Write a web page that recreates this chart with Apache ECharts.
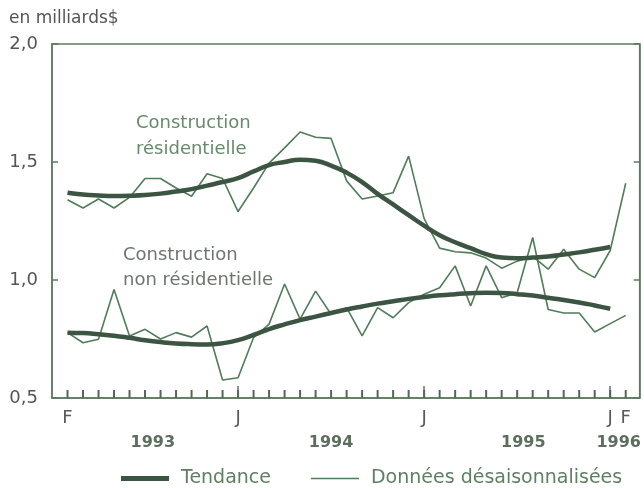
<!DOCTYPE html>
<html>
<head>
<meta charset="utf-8">
<script src="https://cdn.jsdelivr.net/npm/echarts@6/dist/echarts.min.js"></script>
<style>html,body{margin:0;padding:0;background:#fff;}#c{width:644px;height:488px;}</style>
</head>
<body>
<div id="c"></div>
<script>
// Months: Feb 1993 (index 0) .. Feb 1996 (index 36)
var resRaw = [1.34, 1.305, 1.343, 1.305, 1.35, 1.43, 1.43, 1.39, 1.355, 1.45, 1.43, 1.29, 1.39, 1.495, 1.56, 1.627, 1.605, 1.60, 1.42, 1.343, 1.356, 1.37, 1.525, 1.26, 1.135, 1.12, 1.115, 1.093, 1.05, 1.08, 1.10, 1.046, 1.13, 1.046, 1.01, 1.125, 1.41];
var nonresRaw = [0.777, 0.734, 0.749, 0.96, 0.763, 0.791, 0.75, 0.777, 0.758, 0.805, 0.576, 0.586, 0.756, 0.813, 0.983, 0.834, 0.953, 0.855, 0.883, 0.763, 0.883, 0.84, 0.904, 0.94, 0.967, 1.06, 0.89, 1.06, 0.925, 0.946, 1.18, 0.875, 0.86, 0.86, 0.78, 0.815, 0.85];
var resTrend = [1.37, 1.362, 1.358, 1.356, 1.357, 1.36, 1.366, 1.375, 1.385, 1.40, 1.415, 1.432, 1.46, 1.487, 1.50, 1.51, 1.505, 1.485, 1.455, 1.415, 1.365, 1.32, 1.275, 1.23, 1.19, 1.16, 1.135, 1.11, 1.095, 1.092, 1.095, 1.10, 1.108, 1.117, 1.128, 1.14];
var nonresTrend = [0.777, 0.775, 0.77, 0.764, 0.755, 0.745, 0.737, 0.731, 0.728, 0.727, 0.732, 0.745, 0.767, 0.792, 0.812, 0.83, 0.845, 0.86, 0.875, 0.888, 0.90, 0.91, 0.92, 0.928, 0.935, 0.94, 0.944, 0.946, 0.945, 0.94, 0.934, 0.925, 0.915, 0.905, 0.892, 0.878];

var monthTickPos = [0,1,2,3,4,5,6,7,8,9,10,11,12,13,14,15,16,17,18,19,20,21,22,23,24,25,26,27,28,29,30,31,32,33,34,35,36];
var monthLabelPos = [0, 11, 23, 35, 36];
var monthLabels = ['F', 'J', 'J', 'J', 'F'];
var janTickPos = [11, 23, 35];
var yearLabelPos = [5.5, 17, 29.4, 35.55];
var yearLabels = ['1993', '1994', '1995', '1996'];
var yTicks = ['0,5', '1,0', '1,5', '2,0'];

var FONT = 'DejaVu Sans';
var frame = '#5d7a60';
var trendColor = '#3c5442';
var rawColor = '#4f7d57';
var Y_MIN = 0.5, Y_MAX = 2.0;

function pairs(arr) { return arr.map(function (v, i) { return [i, v]; }); }
function lookup(pos, labels) {
  return function (val) {
    for (var k = 0; k < pos.length; k++) if (Math.abs(pos[k] - val) < 1e-6) return labels[k];
    return '';
  };
}

var chart = echarts.init(document.getElementById('c'), null, { renderer: 'canvas' });
chart.setOption({
  animation: false,
  backgroundColor: '#ffffff',
  grid: { left: 52, right: 2.5, top: 44, bottom: 90, show: true, borderColor: frame, borderWidth: 1.5, backgroundColor: 'transparent' },
  legend: {
    data: [
      { name: 'Tendance', icon: 'path://M0 0H47V5H0Z' },
      { name: 'Données désaisonnalisées', icon: 'path://M0 0H50V1.6H0Z' }
    ],
    left: 116, top: 464,
    itemWidth: 48, itemHeight: 14, itemGap: 40,
    textStyle: { fontFamily: FONT, fontSize: 19, color: '#5f7f63', padding: [0, 0, 0, 7] }
  },
  xAxis: [
    {
      type: 'value', min: -1, max: 36.9, position: 'bottom',
      axisLine: { show: true, onZero: false, lineStyle: { color: frame, width: 1.5 } },
      axisTick: { show: false },
      axisLabel: { show: true, customValues: monthLabelPos, formatter: lookup(monthLabelPos, monthLabels), margin: 11, fontFamily: FONT, fontSize: 18, color: '#5a5a5a', hideOverlap: false },
      splitLine: { show: false }
    },
    {
      type: 'value', min: -1, max: 36.9, position: 'bottom',
      axisLine: { show: false, onZero: false },
      axisTick: { show: true, inside: true, length: 12, customValues: janTickPos, lineStyle: { color: frame, width: 1.5 } },
      axisLabel: { show: false },
      splitLine: { show: false }
    },
    {
      type: 'value', min: -1, max: 36.9, position: 'bottom',
      axisLine: { show: false, onZero: false },
      axisTick: { show: false },
      axisLabel: { show: true, customValues: yearLabelPos, formatter: lookup(yearLabelPos, yearLabels), margin: 37, fontFamily: FONT, fontSize: 16, fontWeight: 'bold', color: '#5c6e5e', hideOverlap: false },
      splitLine: { show: false }
    }
  ],
  yAxis: [
    {
      type: 'value', min: Y_MIN, max: Y_MAX, interval: 0.5, position: 'left',
      axisLine: { show: true, onZero: false, lineStyle: { color: frame, width: 1.5 } },
      axisTick: { show: true, inside: true, length: 6, lineStyle: { color: frame, width: 1.5 } },
      axisLabel: { margin: 14, fontFamily: FONT, fontSize: 18, color: '#555555', formatter: function (v) { return yTicks[Math.round((v - 0.5) / 0.5)]; } },
      splitLine: { show: false }
    },
    {
      type: 'value', min: Y_MIN, max: Y_MAX, interval: 0.5, position: 'right',
      axisLine: { show: true, onZero: false, lineStyle: { color: frame, width: 1.5 } },
      axisTick: { show: true, inside: true, length: 6, lineStyle: { color: frame, width: 1.5 } },
      axisLabel: { show: false },
      splitLine: { show: false }
    }
  ],
  series: [
    {
      name: 'month ticks', type: 'scatter', silent: true, clip: false, z: 4,
      data: monthTickPos.map(function (m) { return [m, Y_MIN]; }),
      symbol: 'rect', symbolSize: [2, 8], symbolOffset: [0, -4],
      itemStyle: { color: '#4e6b52', opacity: 1 },
      emphasis: { disabled: true }
    },
    { name: 'Données désaisonnalisées', type: 'line', data: pairs(resRaw), symbol: 'none', lineStyle: { color: rawColor, width: 1.6 }, itemStyle: { color: rawColor }, z: 2 },
    { name: 'Données désaisonnalisées', type: 'line', data: pairs(nonresRaw), symbol: 'none', lineStyle: { color: rawColor, width: 1.6 }, itemStyle: { color: rawColor }, z: 2 },
    { name: 'Tendance', type: 'line', data: pairs(resTrend), symbol: 'none', smooth: true, lineStyle: { color: trendColor, width: 4.5 }, itemStyle: { color: trendColor }, z: 3 },
    { name: 'Tendance', type: 'line', data: pairs(nonresTrend), symbol: 'none', smooth: true, lineStyle: { color: trendColor, width: 4.5 }, itemStyle: { color: trendColor }, z: 3 }
  ],
  graphic: [
    { type: 'text', left: 9, top: 10, style: { text: 'en milliards$', fontFamily: FONT, fontSize: 17, fill: '#555555' } },
    { type: 'text', left: 136, top: 110, style: { text: 'Construction\nrésidentielle', fontFamily: FONT, fontSize: 18, lineHeight: 26, fill: '#668a6b' } },
    { type: 'text', left: 123, top: 243, style: { text: 'Construction\nnon résidentielle', fontFamily: FONT, fontSize: 18, lineHeight: 25, fill: '#6e746f' } }
  ]
});
</script>
</body>
</html>
